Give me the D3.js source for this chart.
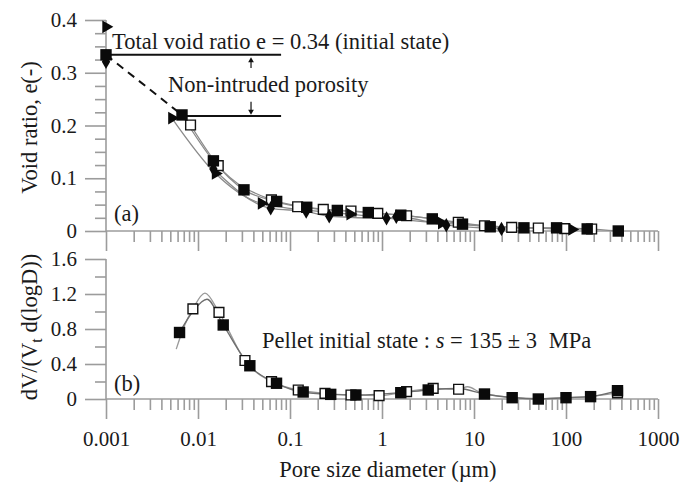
<!DOCTYPE html>
<html><head><meta charset="utf-8">
<script src="https://cdn.jsdelivr.net/npm/d3@7"></script>
<style>
html,body{margin:0;padding:0;background:#fff;}
text{font-family:"Liberation Serif","Times New Roman",Tinos,"DejaVu Serif",serif;fill:#1a1a1a;}
</style></head>
<body>
<svg id="c" width="683" height="484"></svg>
<script>
// ---------- data ----------
const xTicks = [0.001, 0.01, 0.1, 1, 10, 100, 1000];
const xTickLabels = ["0.001", "0.01", "0.1", "1", "10", "100", "1000"];
const yTopTicks = [0, 0.1, 0.2, 0.3, 0.4];
const yTopLabels = ["0", "0.1", "0.2", "0.3", "0.4"];
const yBotTicks = [0, 0.4, 0.8, 1.2, 1.6];
const yBotLabels = ["0", "0.4", "0.8", "1.2", "1.6"];

// (a) void ratio curves
const sqFilledD = [0.001, 0.0067, 0.0147, 0.0316, 0.0716, 0.152, 0.327, 0.71, 1.6, 3.52, 7.5, 15, 34.9, 79, 170, 370];
const sqFilledE = [0.334, 0.220, 0.133, 0.078, 0.056, 0.045, 0.039, 0.035, 0.030, 0.023, 0.013, 0.008, 0.006, 0.006, 0.004, 0.000];
const sqOpenD = [0.0083, 0.0166, 0.0628, 0.121, 0.23, 0.46, 0.9, 1.85, 6.75, 13, 25.7, 50, 97, 190];
const sqOpenE = [0.201, 0.124, 0.059, 0.046, 0.041, 0.038, 0.0335, 0.029, 0.0165, 0.010, 0.007, 0.0057, 0.0044, 0.0038];
const diamD = [0.001, 0.0147, 0.0617, 0.15, 0.267, 1.12, 1.43, 5.0, 19.9];
const diamE = [0.321, 0.1175, 0.043, 0.037, 0.028, 0.024, 0.027, 0.011, 0.004];
const triD = [0.001, 0.0052, 0.0155, 0.049, 0.45, 4.45, 116];
const triE = [0.387, 0.214, 0.109, 0.0525, 0.032, 0.015, 0.003];

// (b) pore size density
const curve1D = [0.0058, 0.0072, 0.0088, 0.0119, 0.0169, 0.0324, 0.063, 0.123, 0.24, 0.46, 0.93, 1.85, 3.6, 6.8, 8.5, 12, 26, 50, 100, 185, 363];
const curve1V = [0.57, 0.85, 1.03, 1.21, 0.99, 0.44, 0.198, 0.103, 0.065, 0.046, 0.038, 0.084, 0.122, 0.111, 0.14, 0.07, 0.02, 0.005, 0.015, 0.03, 0.07];
const curve2D = [0.0063, 0.0088, 0.0125, 0.0188, 0.0366, 0.0714, 0.139, 0.277, 0.53, 1.6, 3.18, 6.8, 13, 26, 50, 100, 185, 363];
const curve2V = [0.76, 1.0, 1.14, 0.846, 0.377, 0.179, 0.077, 0.053, 0.046, 0.072, 0.103, 0.12, 0.057, 0.015, 0.0, 0.015, 0.027, 0.095];
const bFilledD = [0.0063, 0.0188, 0.0366, 0.0714, 0.139, 0.277, 0.52, 1.6, 3.18, 13, 26, 50, 100, 185, 363];
const bFilledV = [0.76, 0.846, 0.38, 0.18, 0.08, 0.053, 0.046, 0.072, 0.103, 0.057, 0.015, 0.0, 0.015, 0.027, 0.095];
const bOpenD = [0.0088, 0.0169, 0.0324, 0.063, 0.123, 0.24, 0.46, 0.93, 1.85, 3.6, 6.8, 363];
const bOpenV = [1.03, 0.99, 0.44, 0.198, 0.103, 0.065, 0.046, 0.038, 0.084, 0.122, 0.111, 0.07];

// annotations (data units)
const totalVoid = 0.334, intrudedTop = 0.218, annotEndD = 0.08, arrowD = 0.0377;

// ---------- layout ----------
const FONT = '"Liberation Serif","Times New Roman",Tinos,"DejaVu Serif",serif';
const svg = d3.select("#c");
const x = d3.scaleLog().domain([0.001, 1000]).range([106, 658]);
const yA = d3.scaleLinear().domain([0, 0.4]).range([231, 20]);
const yB = d3.scaleLinear().domain([0, 1.6]).range([399, 259]);
const AX = "#9c9c9c";

const minorX = [];
xTicks.slice(0, -1).forEach(d => { for (let k = 2; k <= 9; k++) minorX.push(d * k); });

function drawPanel(y, majors, labels, minors, showXLabels) {
  const y0 = y(0);
  const gxm = svg.append("g").attr("transform", `translate(0,${y0})`)
    .call(d3.axisBottom(x).tickValues(minorX).tickSize(11).tickFormat(""));
  const gx = svg.append("g").attr("transform", `translate(0,${y0})`)
    .call(d3.axisBottom(x).tickValues(xTicks).tickSize(20).tickPadding(12)
      .tickFormat((d, i) => showXLabels ? xTickLabels[i] : ""));
  const gym = svg.append("g").attr("transform", `translate(${x(0.001)},0)`)
    .call(d3.axisLeft(y).tickValues(minors).tickSize(11).tickFormat(""));
  const gy = svg.append("g").attr("transform", `translate(${x(0.001)},0)`)
    .call(d3.axisLeft(y).tickValues(majors).tickSize(21).tickPadding(8)
      .tickFormat((d, i) => labels[i]));
  [gxm, gx, gym, gy].forEach(g => {
    g.attr("font-family", FONT);
    g.select(".domain").remove();
    g.selectAll("line").attr("stroke", AX).attr("stroke-width", 1.6);
    g.selectAll("text").attr("font-size", 21).attr("fill", "#1a1a1a").attr("font-family", FONT);
  });
  svg.append("line").attr("x1", x(0.001)).attr("x2", x(1000)).attr("y1", y0).attr("y2", y0)
    .attr("stroke", AX).attr("stroke-width", 1.6);
  svg.append("line").attr("x1", x(0.001)).attr("x2", x(0.001)).attr("y1", y(y.domain()[1])).attr("y2", y0)
    .attr("stroke", AX).attr("stroke-width", 1.6);
}

const minorA = d3.range(0, 0.4001, 0.025).filter(v => Math.abs(v * 10 - Math.round(v * 10)) > 1e-6);
const minorB = [0.2, 0.6, 1.0, 1.4];
drawPanel(yA, yTopTicks, yTopLabels, minorA, false);
drawPanel(yB, yBotTicks, yBotLabels, minorB, true);

const zip = (a, b) => a.map((d, i) => [d, b[i]]);
const lineA = d3.line().x(d => x(d[0])).y(d => yA(d[1])).curve(d3.curveMonotoneX);
const lineB = d3.line().x(d => x(d[0])).y(d => yB(d[1])).curve(d3.curveMonotoneX);

// ---------- panel (a) ----------
const seriesA = [
  {d: sqFilledD, e: sqFilledE, sym: "sqf"},
  {d: sqOpenD, e: sqOpenE, sym: "sqo"},
  {d: diamD, e: diamE, sym: "dia"},
  {d: triD, e: triE, sym: "tri"}
];
seriesA.forEach(s => {
  const pts = zip(s.d, s.e).filter(p => p[0] > 0.0011);
  svg.append("path").attr("d", lineA(pts)).attr("fill", "none")
    .attr("stroke", "#8a8a8a").attr("stroke-width", 1.3);
});

svg.append("line")
  .attr("x1", x(sqFilledD[0])).attr("y1", yA(sqFilledE[0]))
  .attr("x2", x(sqFilledD[1])).attr("y2", yA(sqFilledE[1]))
  .attr("stroke", "#111").attr("stroke-width", 2).attr("stroke-dasharray", "8,6");

svg.append("line").attr("x1", x(0.001)).attr("x2", x(annotEndD))
  .attr("y1", yA(totalVoid)).attr("y2", yA(totalVoid)).attr("stroke", "#111").attr("stroke-width", 2);
svg.append("line").attr("x1", x(sqFilledD[1])).attr("x2", x(annotEndD))
  .attr("y1", yA(intrudedTop)).attr("y2", yA(intrudedTop)).attr("stroke", "#111").attr("stroke-width", 2);

function arrow(xd, fromV, toV) {
  const xp = x(xd), y1 = yA(fromV), y2 = yA(toV);
  const dir = Math.sign(y2 - y1);
  svg.append("line").attr("x1", xp).attr("x2", xp).attr("y1", y1).attr("y2", y2 - dir * 3)
    .attr("stroke", "#111").attr("stroke-width", 1.2);
  svg.append("path").attr("d", d3.symbol().type(d3.symbolTriangle).size(14)())
    .attr("transform", `translate(${xp},${y2 - dir * 2}) rotate(${dir > 0 ? 180 : 0})`)
    .attr("fill", "#111");
}
arrow(arrowD, 0.309, 0.327);
arrow(arrowD, 0.245, 0.223);

function marker(sel, sym) {
  if (sym === "sqf") sel.attr("d", d3.symbol().type(d3.symbolSquare).size(130)()).attr("fill", "#0a0a0a");
  else if (sym === "sqo") sel.attr("d", d3.symbol().type(d3.symbolSquare).size(95)()).attr("fill", "#fff").attr("stroke", "#111").attr("stroke-width", 1.4);
  else if (sym === "dia") sel.attr("d", d3.symbol().type(d3.symbolDiamond).size(60)()).attr("fill", "#0a0a0a");
  else if (sym === "tri") sel.attr("d", d3.symbol().type(d3.symbolTriangle).size(70)()).attr("fill", "#0a0a0a");
}
["sqo", "dia", "tri", "sqf"].forEach(sym => {
  const s = seriesA.find(t => t.sym === sym);
  const g = svg.append("g");
  g.selectAll("path").data(zip(s.d, s.e)).join("path")
    .attr("transform", p => `translate(${x(p[0])},${yA(p[1])})` + (sym === "tri" ? " rotate(90)" : ""))
    .call(sel => marker(sel, sym));
});

function label(xp, yp, size) {
  return svg.append("text").attr("x", xp).attr("y", yp).attr("font-size", size).attr("font-family", FONT);
}
label(112, 49, 22.5).text("Total void ratio e = 0.34 (initial state)");
label(168, 92, 22.5).text("Non-intruded porosity");
label(114, 221, 22.5).text("(a)");
svg.append("text").attr("transform", `translate(37,${(yA(0) + yA(0.4)) / 2 + 2}) rotate(-90)`)
  .attr("text-anchor", "middle").attr("font-size", 22.5).attr("font-family", FONT).text("Void ratio, e(-)");

// ---------- panel (b) ----------
[[curve1D, curve1V, "#9a9a9a"], [curve2D, curve2V, "#6e6e6e"]].forEach(([d, v, c]) => {
  svg.append("path").attr("d", lineB(zip(d, v))).attr("fill", "none").attr("stroke", c).attr("stroke-width", 1.3);
});
svg.append("g").selectAll("path").data(zip(bOpenD, bOpenV)).join("path")
  .attr("transform", p => `translate(${x(p[0])},${yB(p[1])})`).call(sel => marker(sel, "sqo"));
svg.append("g").selectAll("path").data(zip(bFilledD, bFilledV)).join("path")
  .attr("transform", p => `translate(${x(p[0])},${yB(p[1])})`).call(sel => marker(sel, "sqf"));

label(114, 391, 22.5).text("(b)");
const pt = label(262, 348, 22.5);
pt.append("tspan").text("Pellet initial state : ");
pt.append("tspan").attr("font-style", "italic").text("s");
pt.append("tspan").text(" = 135 ± 3");
pt.append("tspan").attr("dx", 6).text(" MPa");

const yl = svg.append("text").attr("transform", `translate(37,${(yB(0) + yB(1.6)) / 2 - 2}) rotate(-90)`)
  .attr("text-anchor", "middle").attr("font-size", 22.5).attr("font-family", FONT);
yl.append("tspan").text("dV/(V");
yl.append("tspan").attr("font-size", 16).attr("dy", 5).text("t");
yl.append("tspan").attr("dy", -5).text(" d(logD))");

svg.append("text").attr("x", (x(0.001) + x(1000)) / 2 + 6).attr("y", 477).attr("text-anchor", "middle")
  .attr("font-size", 22.5).attr("font-family", FONT).text("Pore size diameter (µm)");
</script>
</body></html>
